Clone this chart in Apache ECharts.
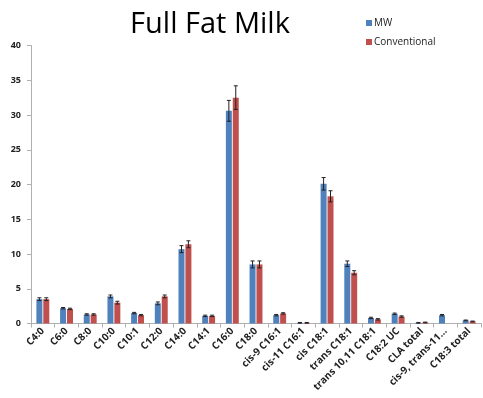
<!DOCTYPE html>
<html>
<head>
<meta charset="utf-8">
<script src="https://cdn.jsdelivr.net/npm/echarts@6/dist/echarts.min.js"></script>
<style>
html,body{margin:0;padding:0;background:#fff;}
#chart{width:483px;height:398px;}
</style>
</head>
<body>
<div id="chart"></div>
<script>
// Fatty acid profile of full fat milk (% of total fatty acids)
const categories = ['C4:0','C6:0','C8:0','C10:0','C10:1','C12:0','C14:0','C14:1','C16:0','C18:0',
  'cis-9 C16:1','cis-11 C16:1','cis C18:1','trans C18:1','trans 10,11 C18:1','C18:2 UC','CLA total',
  'cis-9, trans-11...','C18:3 total'];
const mwValues   = [3.5, 2.2, 1.3, 3.9, 1.5, 2.9, 10.7, 1.1, 30.6, 8.5, 1.2, 0.1, 20.1, 8.6, 0.8, 1.4, 0.1, 1.2, 0.45];
const convValues = [3.5, 2.1, 1.3, 3.0, 1.2, 3.9, 11.4, 1.1, 32.5, 8.5, 1.45, 0.1, 18.3, 7.3, 0.6, 1.0, 0.15, 0, 0.3];
const mwErrors   = [0.2, 0.1, 0.1, 0.2, 0.1, 0.2, 0.5, 0.1, 1.5, 0.5, 0.1, 0.05, 0.9, 0.4, 0.1, 0.1, 0.05, 0.1, 0.05];
const convErrors = [0.2, 0.1, 0.1, 0.2, 0.1, 0.2, 0.5, 0.1, 1.7, 0.5, 0.1, 0.05, 0.8, 0.3, 0.1, 0.1, 0.05, 0, 0.05];
const yTicks = [0, 5, 10, 15, 20, 25, 30, 35, 40];

const BAR_W = 6;
const GAP = 0.9;
const MW_COLOR = '#4F81BD';
const CONV_COLOR = '#C0504D';
const font = '"Open Sans", "Liberation Sans", sans-serif';

function errorSeries(values, errors, offset) {
  return {
    type: 'custom',
    z: 5,
    silent: true,
    data: values.map((v, i) => [i, v, errors[i]]),
    renderItem: function (params, api) {
      const i = api.value(0), v = api.value(1), e = api.value(2);
      if (!e) return null;
      const c = api.coord([i, v]);
      const hi = api.coord([i, v + e]);
      const lo = api.coord([i, Math.max(0, v - e)]);
      const x = c[0] + offset;
      const cap = 2;
      const style = { stroke: '#222', lineWidth: 1 };
      return {
        type: 'group',
        children: [
          { type: 'line', shape: { x1: x, y1: hi[1], x2: x, y2: lo[1] }, style },
          { type: 'line', shape: { x1: x - cap, y1: hi[1], x2: x + cap, y2: hi[1] }, style },
          { type: 'line', shape: { x1: x - cap, y1: lo[1], x2: x + cap, y2: lo[1] }, style }
        ]
      };
    }
  };
}

const chart = echarts.init(document.getElementById('chart'), null, { renderer: 'canvas' });
chart.setOption({
  animation: false,
  backgroundColor: '#fff',
  title: {
    text: 'Full Fat Milk',
    left: 205, top: 5, textAlign: 'center',
    textStyle: { fontFamily: font, fontSize: 29, fontWeight: 'normal', color: '#000' }
  },
  legend: {
    data: ['MW', 'Conventional'],
    orient: 'vertical',
    left: 361, top: 13,
    itemWidth: 6, itemHeight: 6, itemGap: 9,
    icon: 'rect',
    textStyle: { fontFamily: font, fontSize: 10, color: '#222', padding: [0, 0, 0, -3] }
  },
  grid: { left: 31, right: 2, top: 45.5, bottom: 74.5, containLabel: false },
  xAxis: {
    type: 'category',
    data: categories,
    axisLine: { lineStyle: { color: '#b0b0b0' } },
    axisTick: { show: true, alignWithLabel: false, length: 4, lineStyle: { color: '#b0b0b0' } },
    axisLabel: {
      interval: 0, rotate: 45, margin: 6,
      fontFamily: font, fontSize: 10, fontWeight: 'bold', color: '#222'
    }
  },
  yAxis: {
    type: 'value',
    min: 0, max: 40, interval: 5,
    axisLine: { show: true, lineStyle: { color: '#b0b0b0' } },
    axisTick: { show: true, length: 4, lineStyle: { color: '#b0b0b0' } },
    splitLine: { show: false },
    axisLabel: {
      margin: 10,
      fontFamily: font, fontSize: 9, fontWeight: 'bold', color: '#222',
      formatter: v => yTicks.includes(v) ? String(v) : ''
    }
  },
  series: [
    { name: 'MW', type: 'bar', data: mwValues, barWidth: BAR_W, barGap: '15%',
      itemStyle: { color: MW_COLOR } },
    { name: 'Conventional', type: 'bar', data: convValues, barWidth: BAR_W, barGap: '15%',
      itemStyle: { color: CONV_COLOR } },
    errorSeries(mwValues, mwErrors, -(BAR_W + GAP) / 2),
    errorSeries(convValues, convErrors, (BAR_W + GAP) / 2)
  ]
});
</script>
</body>
</html>
